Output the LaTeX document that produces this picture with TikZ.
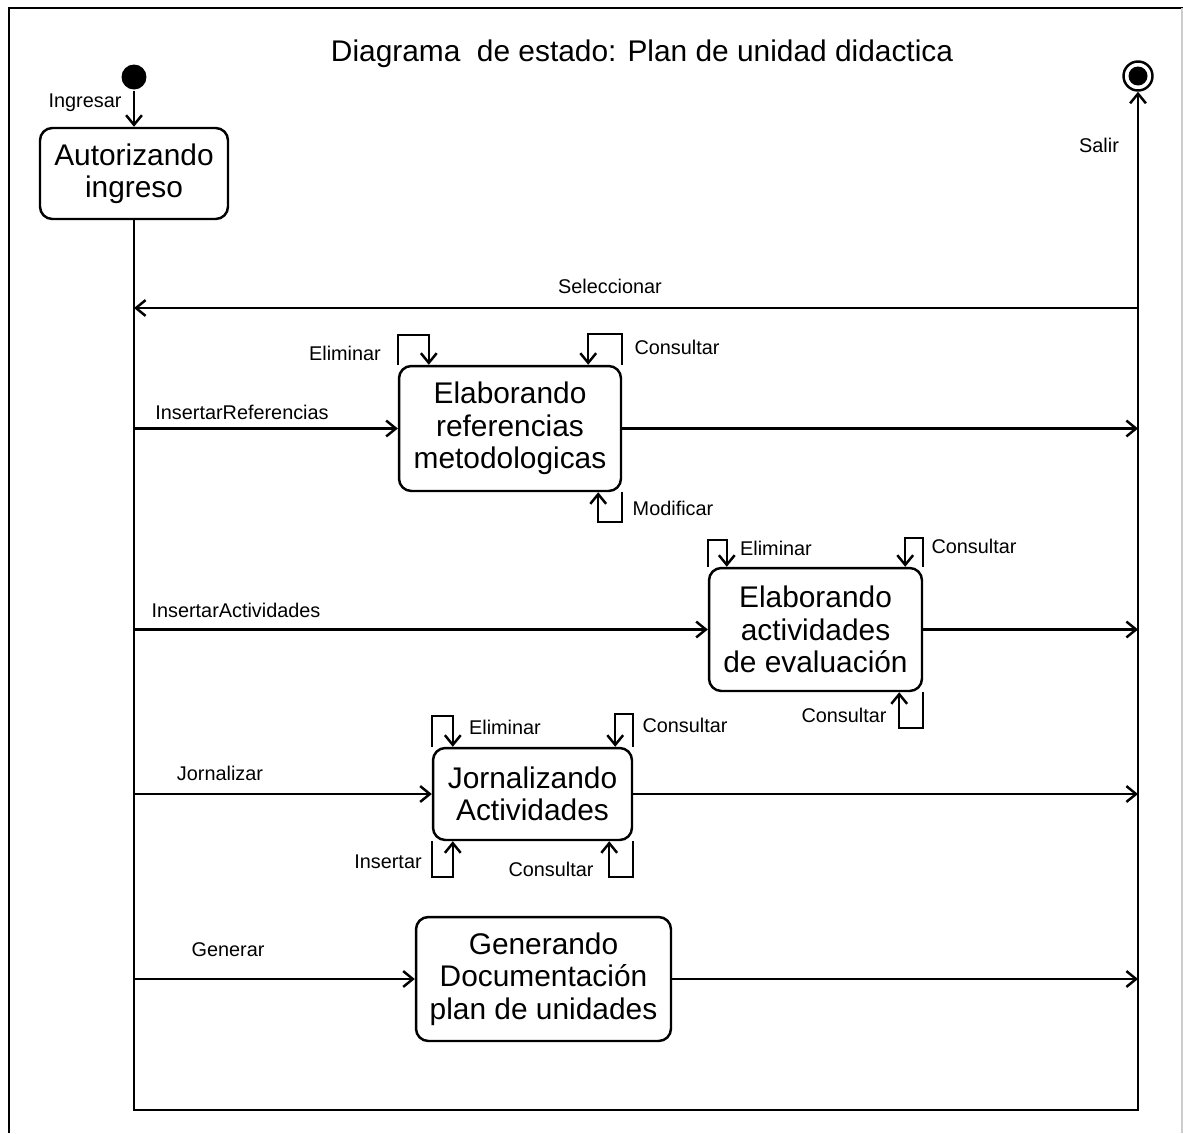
\documentclass[tikz,border=0pt]{standalone}
\usepackage{fontspec}
\setmainfont{Liberation Sans}
\usepackage{tikz}
\usetikzlibrary{arrows.meta, positioning}

\begin{document}
\begin{tikzpicture}[x=0.02cm, y=0.02cm, >={Straight Barb[length=5.5pt,width=9pt]}, line width=1.4pt,
   stbox/.style={draw, rounded corners=7pt, align=center, inner sep=0pt,
                 font=\fontsize{17}{18.4}\selectfont},
   lbl/.style={font=\fontsize{11.3}{13}\selectfont, inner sep=0pt}]
  \useasboundingbox (0,0) rectangle (1183,-1133);
  % frame
  \draw (9,-1133) -- (9,-8) -- (1183,-8);
  \draw[gray!40, line width=0.6pt] (1182,-8) -- (1182,-1133);
  \node[font=\fontsize{17}{20}\selectfont] (title) at (642,-54) {Diagrama\ \ de estado: Plan de unidad didactica};

  % states
  \node[circle, fill, minimum size=0.5cm, inner sep=0pt] (ini) at (134,-77) {};
  \node[circle, draw, minimum size=0.58cm, inner sep=0pt,
        path picture={\fill (path picture bounding box.center) circle (0.19cm);}] (fin) at (1138,-76) {};
  \node[stbox, minimum width=3.76cm, minimum height=1.82cm] (aut) at (134,-173.5) {Autorizando\\ingreso};
  \node[stbox, minimum width=4.44cm, minimum height=2.5cm] (ref) at (510,-428.5) {Elaborando\\referencias\\metodologicas};
  \node[stbox, minimum width=4.26cm, minimum height=2.46cm] (act) at (815.5,-629.5) {Elaborando\\actividades\\de evaluación};
  \node[stbox, minimum width=3.98cm, minimum height=1.84cm] (jor) at (532.5,-794) {Jornalizando\\Actividades};
  \node[stbox, minimum width=5.1cm, minimum height=2.48cm] (gen) at (543.5,-979) {Generando\\Documentación\\plan de unidades};
  \coordinate (bl) at (134,-1110);
  \coordinate (br) at (1138,-1110);
  \coordinate (sel) at (1138,-308);

  % main transitions
  \draw[->] (ini) -- (aut);
  \draw[->] (aut) -- (bl) -- (br) -- (fin);
  \draw[->] (sel) -- (sel -| bl);
  \foreach \s in {ref, act, jor, gen} {
    \draw[->] (\s.west -| bl) -- (\s.west);
    \draw[->] (\s) -- (\s -| br);
  }

  % self transitions
  \draw[->] (ref.north west) -- ++(0,30) -- ++(31,0) -- ++(0,-30);
  \draw[->] (ref.north east) -- ++(0,31) -- ++(-34,0) -- ++(0,-31);
  \draw[->] (ref.south east) -- ++(0,-30) -- ++(-24,0) -- ++(0,30);
  \draw[->] (act.north west) -- ++(0,27) -- ++(19,0) -- ++(0,-27);
  \draw[->] (act.north east) -- ++(0,29) -- ++(-18,0) -- ++(0,-29);
  \draw[->] (act.south east) -- ++(0,-36) -- ++(-24,0) -- ++(0,36);
  \draw[->] (jor.north west) -- ++(0,31) -- ++(21,0) -- ++(0,-31);
  \draw[->] (jor.north east) -- ++(0,33) -- ++(-18,0) -- ++(0,-33);
  \draw[->] (jor.south west) -- ++(0,-36) -- ++(21,0) -- ++(0,36);
  \draw[->] (jor.south east) -- ++(0,-36) -- ++(-24,0) -- ++(0,36);

  % labels
  \node[lbl] (lin) at (85,-103) {Ingresar};
  \node[lbl] (lsal) at (1099,-145) {Salir};
  \node[lbl] (lsel) at (610,-286) {Seleccionar};
  \node[lbl] (lref) at (242,-412) {InsertarReferencias};
  \node[lbl] (lrefe) at (345,-353) {Eliminar};
  \node[lbl] (lrefc) at (677,-347) {Consultar};
  \node[lbl] (lrefm) at (673,-508) {Modificar};
  \node[lbl] (lact) at (236,-610) {InsertarActividades};
  \node[lbl] (lacte) at (776,-548) {Eliminar};
  \node[lbl] (lactc) at (974,-546) {Consultar};
  \node[lbl] (lactb) at (844,-715) {Consultar};
  \node[lbl] (ljor) at (220,-773) {Jornalizar};
  \node[lbl] (ljore) at (505,-727) {Eliminar};
  \node[lbl] (ljorc) at (685,-725) {Consultar};
  \node[lbl] (ljori) at (388,-862) {Insertar};
  \node[lbl] (ljorb) at (551,-869) {Consultar};
  \node[lbl] (lgen) at (228,-950) {Generar};
\end{tikzpicture}
\end{document}
